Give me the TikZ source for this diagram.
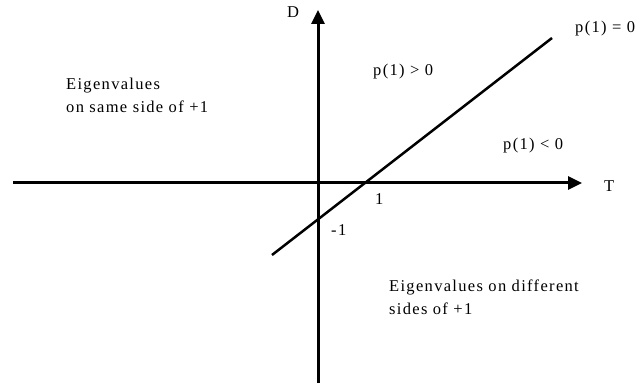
\documentclass[tikz,border=0pt]{standalone}
\usepackage{fontspec}
\setmainfont[LetterSpace=8]{Liberation Serif}
\usetikzlibrary{arrows.meta}
\begin{document}
\begin{tikzpicture}[x=1pt,y=-1pt,
  axis/.style={line width=3pt,-{Triangle[length=14pt,width=13pt]}},
  lbl/.style={font=\fontsize{16.5}{20}\selectfont,inner sep=0pt,anchor=base west},
  txt/.style={font=\fontsize{16.5}{23}\selectfont,inner sep=0pt,align=left,anchor=base west}]
\useasboundingbox (0,0) rectangle (638,385);
\coordinate (xs) at (13,183);
\coordinate (xe) at (582,183);
\coordinate (ys) at (318,383);
\coordinate (ye) at (318,10);
\coordinate (ls) at (272,255);
\coordinate (le) at (552,38);
\draw[axis] (xs) -- (xe);
\draw[axis] (ys) -- (ye);
\draw[line width=2.5pt] (ls) -- (le);
\node[lbl] (D) at (287,18) {D};
\node[lbl] (T) at (604,192) {T};
\node[lbl] (p0) at (575,33) {p(1) = 0};
\node[lbl] (pg) at (373,76) {p(1) > 0};
\node[lbl] (pl) at (503,150) {p(1) < 0};
\node[lbl] (one) at (375,205) {1};
\node[lbl] (mone) at (331,236) {-1};
\node[txt] (same) at (66,113) {Eigenvalues\\ on same side of +1};
\node[txt] (diff) at (389,314) {Eigenvalues on different\\ sides of +1};
\end{tikzpicture}
\end{document}
